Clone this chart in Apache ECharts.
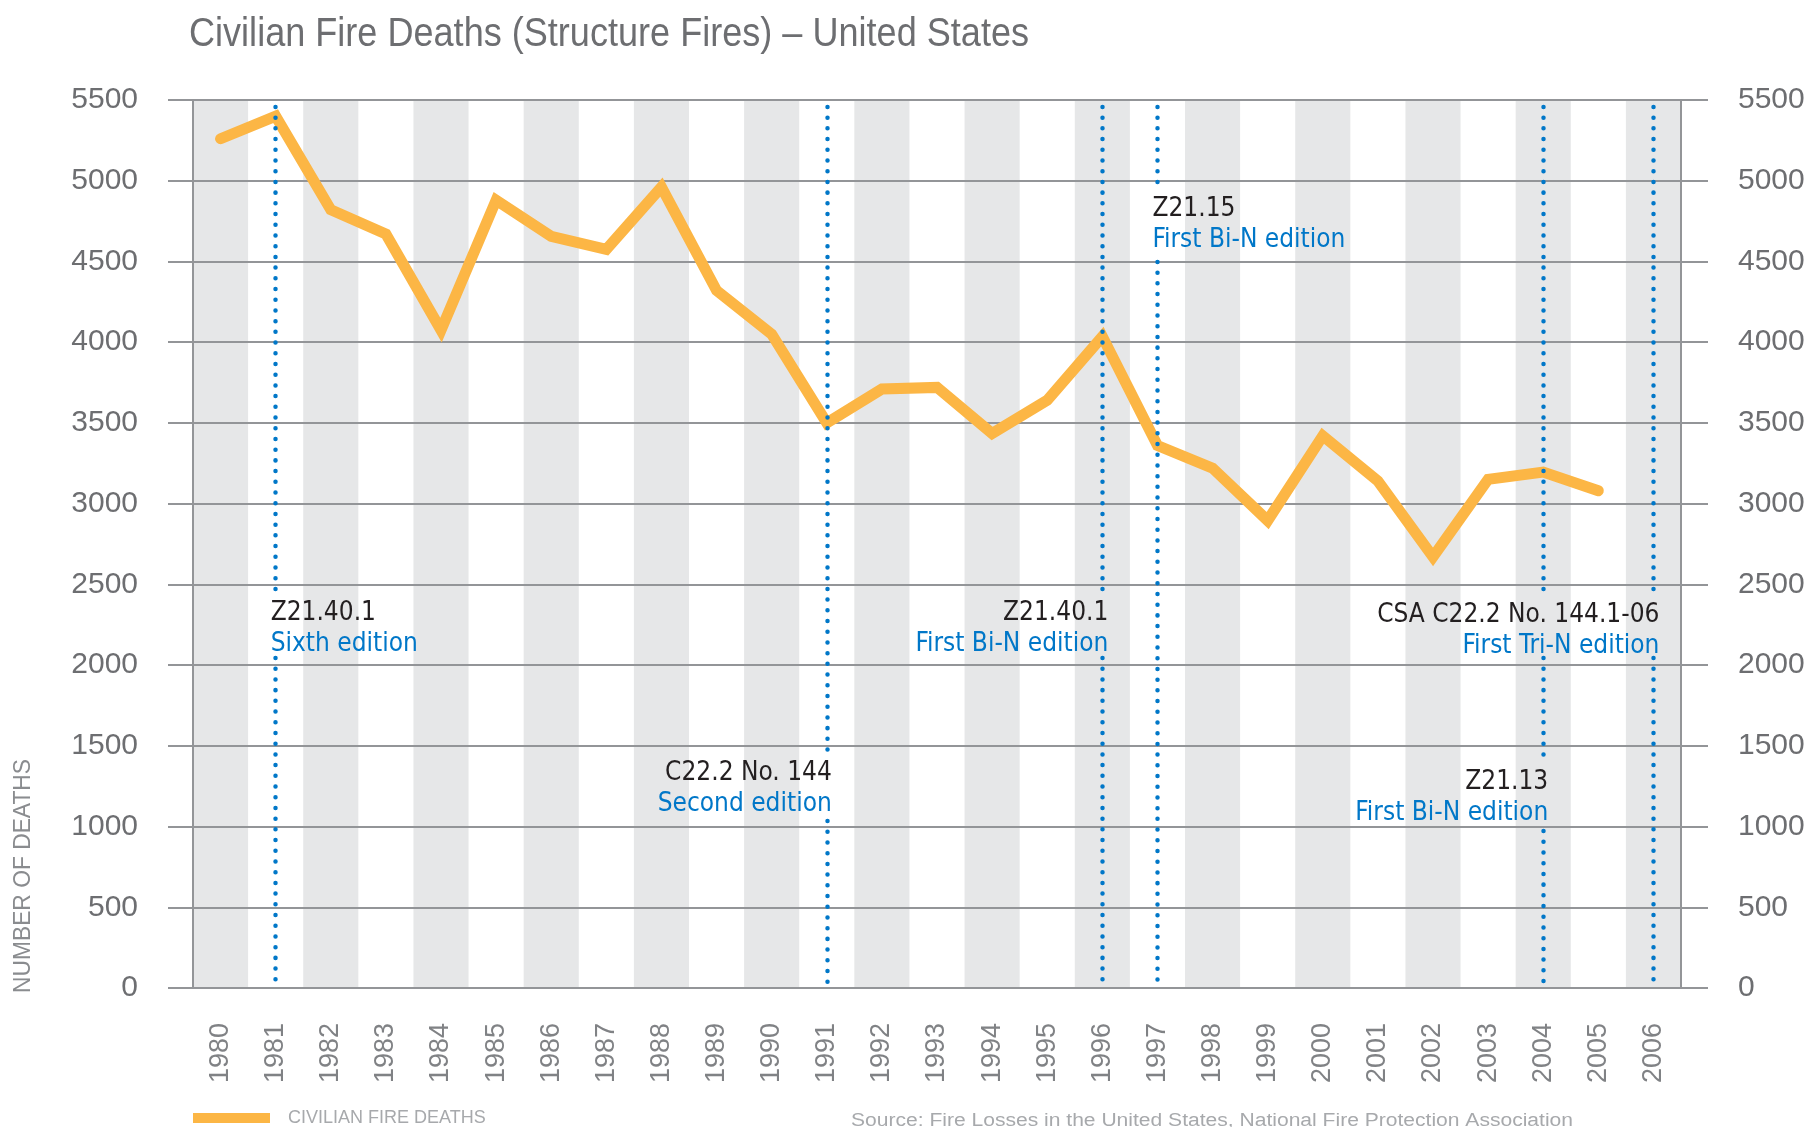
<!DOCTYPE html>
<html>
<head>
<meta charset="utf-8">
<title>Civilian Fire Deaths</title>
<script src="https://cdn.jsdelivr.net/npm/echarts@6/dist/echarts.min.js"></script>
<style>
  html, body { margin: 0; padding: 0; background: #fff; }
  #chart { width: 1816px; height: 1127px; }
</style>
</head>
<body>
<div id="chart"></div>
<script>
// years on the category axis
var years = ['1980','1981','1982','1983','1984','1985','1986','1987','1988','1989',
             '1990','1991','1992','1993','1994','1995','1996','1997','1998','1999',
             '2000','2001','2002','2003','2004','2005','2006'];

// civilian deaths in structure fires (no value for 2006)
var deaths = [5260, 5400, 4820, 4670, 4075, 4880, 4655, 4575, 4960, 4320,
              4050, 3500, 3710, 3720, 3435, 3640, 4035, 3360, 3220, 2895,
              3420, 3140, 2670, 3150, 3195, 3080, null];

var yTicks = { min: 0, max: 5500, step: 500 };

// dotted edition markers: year and visible runs [from, to] in deaths units
var markerYears = ['1981', '1991', '1996', '1997', '2004', '2006'];
var markerRuns = [
  [[5457, 2453], [2044, 37]],
  [[5457, 1456], [1034, 37]],
  [[5457, 2453], [2044, 37]],
  [[5457, 4986], [4497, 37]],
  [[5457, 2453], [2044, 1425], [972, 37]],
  [[5457, 2453], [2044, 37]]
];

// edition notes
var noteCodes = ['Z21.40.1', 'C22.2 No. 144', 'Z21.40.1', 'Z21.15', 'Z21.13', 'CSA C22.2 No. 144.1-06'];
var noteTexts = ['Sixth edition', 'Second edition', 'First Bi-N edition', 'First Bi-N edition', 'First Bi-N edition', 'First Tri-N edition'];
var noteYears = ['1981', '1991', '1996', '1997', '2004', '2006'];

var noteLayout = [
  {align: 'left',  dx: -5, base: 623},
  {align: 'right', dx: 5,  base: 783},
  {align: 'right', dx: 6,  base: 623},
  {align: 'left',  dx: -5, base: 219},
  {align: 'right', dx: 5,  base: 792},
  {align: 'right', dx: 6,  base: 625}
];

var GRAY = '#939598';
var BAND = '#e6e7e8';
var BLUE = '#0077c8';
var ORANGE = '#fcb645';
var narrow = '"Liberation Sans Narrow", "Arial Narrow", sans-serif';
var cond = '"DejaVu Sans Condensed", "DejaVu Sans", sans-serif';
var plain = '"Liberation Sans", Arial, sans-serif';

// horizontal squeeze so a text line spans the wanted width
var measureCtx = document.createElement('canvas').getContext('2d');
function fitScale(text, font, target) {
  measureCtx.font = font;
  return target / measureCtx.measureText(text).width;
}

var dom = document.getElementById('chart');
var myChart = echarts.init(dom, null, {renderer: 'canvas'});

var markLines = [];
for (var i = 0; i < markerYears.length; i++) {
  for (var j = 0; j < markerRuns[i].length; j++) {
    markLines.push([
      {coord: [markerYears[i], markerRuns[i][j][0]]},
      {coord: [markerYears[i], markerRuns[i][j][1]]}
    ]);
  }
}

var plainNumber = function (v) { return String(v); };

var option = {
  animation: false,
  textStyle: {fontFamily: cond},
  grid: [
    {left: 193, right: 135, top: 100, bottom: 139, containLabel: false, outerBoundsMode: 'none'},
    {left: 168, right: 108, top: 100, bottom: 139, containLabel: false, outerBoundsMode: 'none'}
  ],
  legend: {
    left: 193,
    top: 1109,
    padding: 0,
    icon: 'rect',
    itemWidth: 77,
    itemHeight: 10,
    selectedMode: false,
    data: ['CIVILIAN FIRE DEATHS'],
    textStyle: {
      color: '#a7a9ac',
      fontSize: 18,
      fontFamily: plain,
      padding: [0, 0, 0, 13]
    }
  },
  xAxis: [
    {
      type: 'category',
      gridIndex: 0,
      data: years,
      boundaryGap: true,
      z: 0,
      axisLine: {show: false},
      axisTick: {show: false},
      axisLabel: {
        interval: 0,
        rotate: 90,
        margin: 35,
        color: '#808285',
        fontSize: 27,
        fontFamily: narrow
      },
      splitLine: {show: false},
      splitArea: {
        show: true,
        interval: 0,
        areaStyle: {color: [BAND, 'rgba(255,255,255,0)']}
      }
    },
    {
      type: 'value',
      gridIndex: 1,
      show: false
    }
  ],
  yAxis: [
    {
      type: 'value', gridIndex: 0, position: 'left',
      min: yTicks.min, max: yTicks.max, interval: yTicks.step,
      z: 1,
      axisLine: {show: true, lineStyle: {color: GRAY, width: 2}},
      axisTick: {show: false}, axisLabel: {show: false}, splitLine: {show: false}
    },
    {
      type: 'value', gridIndex: 0, position: 'right',
      min: yTicks.min, max: yTicks.max, interval: yTicks.step,
      z: 1,
      axisLine: {show: true, lineStyle: {color: GRAY, width: 2}},
      axisTick: {show: false}, axisLabel: {show: false}, splitLine: {show: false}
    },
    {
      type: 'value', gridIndex: 1, position: 'left',
      min: yTicks.min, max: yTicks.max, interval: yTicks.step,
      z: 1,
      axisLine: {show: false}, axisTick: {show: false},
      axisLabel: {margin: 30, color: '#6d6e71', fontSize: 30, fontFamily: plain, formatter: plainNumber},
      splitLine: {show: true, lineStyle: {color: GRAY, width: 2}}
    },
    {
      type: 'value', gridIndex: 1, position: 'right',
      min: yTicks.min, max: yTicks.max, interval: yTicks.step,
      axisLine: {show: false}, axisTick: {show: false},
      axisLabel: {margin: 30, color: '#6d6e71', fontSize: 30, fontFamily: plain, formatter: plainNumber},
      splitLine: {show: false}
    }
  ],
  series: [
    {
      name: 'CIVILIAN FIRE DEATHS',
      type: 'line',
      xAxisIndex: 0,
      yAxisIndex: 0,
      data: deaths,
      showSymbol: false,
      symbol: 'none',
      color: ORANGE,
      lineStyle: {color: ORANGE, width: 11, cap: 'round', join: 'miter'},
      z: 3,
      markLine: {
        silent: true,
        symbol: ['none', 'none'],
        label: {show: false},
        lineStyle: {color: BLUE, width: 4.5, type: [0.01, 10.7], cap: 'round'},
        emphasis: {disabled: true},
        data: markLines
      }
    }
  ]
};

myChart.setOption(option, true);

// texts: title, axis name, source and edition notes
var titleText = 'Civilian Fire Deaths (Structure Fires) \u2013 United States';
var titleFont = '40px ' + narrow;
var sourceText = 'Source: Fire Losses in the United States, National Fire Protection Association';
var sourceFont = '18px ' + plain;
var yNameText = 'NUMBER OF DEATHS';
var yNameFont = '23px ' + plain;

var graphics = [
  {
    type: 'text', x: 189, y: 35, scaleX: fitScale(titleText, titleFont, 840),
    style: {text: titleText, fill: '#6d6e71', font: titleFont, align: 'left', verticalAlign: 'middle'}
  },
  {
    type: 'text', x: 24, y: 876, rotation: Math.PI / 2, scaleX: fitScale(yNameText, yNameFont, 234),
    style: {text: yNameText, fill: '#8a8c8f', font: yNameFont, align: 'center', verticalAlign: 'middle'}
  },
  {
    type: 'text', x: 851, y: 1121, scaleX: fitScale(sourceText, sourceFont, 722),
    style: {text: sourceText, fill: '#a7a9ac', font: sourceFont, align: 'left', verticalAlign: 'middle'}
  }
];

for (var k = 0; k < noteYears.length; k++) {
  var px = myChart.convertToPixel({xAxisIndex: 0}, noteYears[k]) + noteLayout[k].dx;
  var al = noteLayout[k].align;
  graphics.push({
    type: 'text', x: px, y: noteLayout[k].base - 9.5,
    style: {text: noteCodes[k], fill: '#231f20', font: '26px ' + cond, align: al, verticalAlign: 'middle'}
  });
  graphics.push({
    type: 'text', x: px, y: noteLayout[k].base + 21,
    style: {text: noteTexts[k], fill: BLUE, font: '26px ' + cond, align: al, verticalAlign: 'middle'}
  });
}

myChart.setOption({graphic: graphics});
</script>
</body>
</html>
